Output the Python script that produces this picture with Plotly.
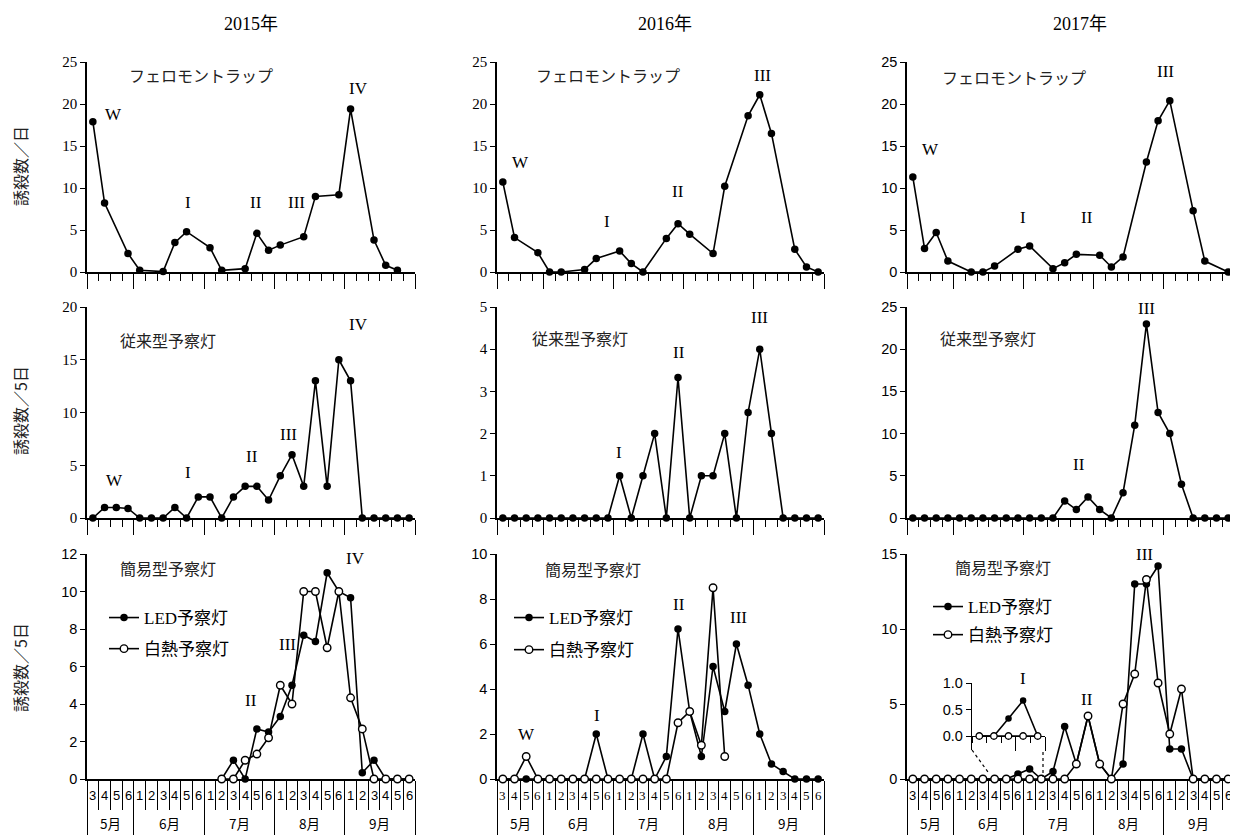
import plotly.graph_objects as go

# the page body keeps an 8px margin, so the figure is drawn 8px smaller and all
# layout positions below are given in window pixels and shifted by that margin
PAGE_MARGIN = 8
W, H = 1238 - PAGE_MARGIN, 835 - PAGE_MARGIN

# ---------------- data ----------------
YEARS = ["2015年", "2016年", "2017年"]
MONTHS = ["5月", "6月", "7月", "8月", "9月"]
MONTH_PENTADS = [4, 6, 6, 6, 6]
PENTADS = ["3", "4", "5", "6"] + ["1", "2", "3", "4", "5", "6"] * 4
N = None

# pheromone trap (catch / day)
PHERO_2015 = [17.9, 8.2, N, 2.2, 0.2, N, 0.05, 3.5, 4.8, N, 2.9, 0.2, N, 0.4, 4.6, 2.6,
              3.2, N, 4.2, 9.0, N, 9.2, 19.4, N, 3.8, 0.8, 0.2, N]
PHERO_2016 = [10.7, 4.1, N, 2.3, 0, 0, N, 0.3, 1.6, N, 2.5, 1.0, 0, N, 4.0, 5.75,
              4.5, N, 2.2, 10.2, N, 18.6, 21.1, 16.5, N, 2.7, 0.6, 0]
PHERO_2017 = [11.3, 2.8, 4.7, 1.3, N, 0, 0, 0.7, N, 2.7, 3.1, N, 0.4, 1.1, 2.1, N,
              2.0, 0.6, 1.8, N, 13.1, 18.0, 20.4, N, 7.3, 1.3, N, 0]

# conventional light trap (catch / 5 days)
CONV_2015 = [0, 1, 1, 0.9, 0, 0, 0, 1, 0, 2, 2, 0, 2, 3, 3, 1.7, 4, 6, 3, 13, 3, 15, 13,
             0, 0, 0, 0, 0]
CONV_2016 = [0, 0, 0, 0, 0, 0, 0, 0, 0, 0, 1, 0, 1, 2, 0, 3.33, 0, 1, 1, 2, 0, 2.5, 4, 2,
             0, 0, 0, 0]
CONV_2017 = [0, 0, 0, 0, 0, 0, 0, 0, 0, 0, 0, 0, 0, 2, 1, 2.5, 1, 0, 3, 11, 23, 12.5, 10, 4,
             0, 0, 0, 0]

# simple light traps (catch / 5 days)
LED_2015 = [N] * 11 + [0, 1.0, 0, 2.67, 2.5, 3.33, 5.0, 7.67, 7.33, 11, 10, 9.67, 0.33, 1.0,
                       0, 0, 0]
WHITE_2015 = [N] * 11 + [0, 0, 1.0, 1.33, 2.2, 5.0, 4.0, 10, 10, 7, 10, 4.33, 2.67, 0,
                         0, 0, 0]
LED_2016 = [0, 0, 0, 0, 0, 0, 0, 0, 2, 0, 0, 0, 2, 0, 1, 6.67, 3, 1, 5, 3, 6, 4.17, 2, 0.67,
            0.33, 0, 0, 0]
WHITE_2016 = [0, 0, 1, 0, 0, 0, 0, 0, 0, 0, 0, 0, 0, 0, 0, 2.5, 3, 1.5, 8.5, 1.0] + [N] * 8
LED_2017 = [0] * 9 + [0.33, 0.67, 0, 0.5, 3.5, 1.0, 4.2, 1.0, 0, 1.0, 13.0, 13.0, 14.2, 2.0,
                      2.0, 0, 0, 0, 0]
WHITE_2017 = [0] * 14 + [1.0, 4.2, 1.0, 0, 5.0, 7.0, 13.3, 6.4, 3.0, 6.0, 0, 0, 0, 0]

PANEL_LABELS = ["フェロモントラップ", "従来型予察灯", "簡易型予察灯"]
Y_TITLES = ["誘殺数／日", "誘殺数／5日", "誘殺数／5日"]
LEGEND_NAMES = ["LED予察灯", "白熱予察灯"]

X = list(range(len(PENTADS)))

# ---------------- styling ----------------
SERIF = "Liberation Serif, Noto Sans CJK JP"
SANS = "Liberation Sans, Noto Sans CJK JP"
CJK = "Noto Sans CJK JP"


def px(x):
    return (x - PAGE_MARGIN) / W


def py(y):
    return 1 - (y - PAGE_MARGIN) / H


COL_PX = [(87, 415), (497, 824), (907, 1234)]
ROW_PX = [(62, 272), (307, 518), (554, 779)]

Y_SETUP = [
    [(25, 5, SERIF), (25, 5, SERIF), (25, 5, SANS)],
    [(20, 5, SERIF), (5, 1, SERIF), (25, 5, SANS)],
    [(12, 2, SANS), (10, 2, SANS), (15, 5, SANS)],
]
COL_FONTS = [SANS, SERIF, SANS]

ROW_DATA = [
    [PHERO_2015, PHERO_2016, PHERO_2017],
    [CONV_2015, CONV_2016, CONV_2017],
]
LED = [LED_2015, LED_2016, LED_2017]
WHITE = [WHITE_2015, WHITE_2016, WHITE_2017]

month_bounds = [-0.5]
for n in MONTH_PENTADS:
    month_bounds.append(month_bounds[-1] + n)

fig = go.Figure()
layout = dict(
    template="none",
    width=W, height=H, margin=dict(l=0, r=0, t=0, b=0, pad=0, autoexpand=False),
    paper_bgcolor="white", plot_bgcolor="white",
    showlegend=True,
)

LINE_W = 1.6


def suffix(i):
    return "" if i == 1 else str(i)


for r in range(3):
    for c in range(3):
        i = r * 3 + c + 1
        s = suffix(i)
        ymax, dtick, yfont = Y_SETUP[r][c]
        bottom = r == 2
        layout["xaxis" + s] = dict(
            domain=[px(COL_PX[c][0]), px(COL_PX[c][1])],
            anchor="y" + s, range=[-0.5, len(PENTADS) - 0.5], automargin=False,
            showline=True, linecolor="black", linewidth=1.5,
            tickmode="array", tickvals=month_bounds, ticks="outside",
            ticklen=60 if bottom else 15, tickwidth=1.3, tickcolor="black",
            showticklabels=False, showgrid=False, zeroline=False,
            minor=dict(ticks="outside", ticklen=29 if bottom else 7, tick0=-0.5, dtick=1,
                       tickwidth=1.3, tickcolor="black", showgrid=False),
            layer="below traces",
        )
        layout["yaxis" + s] = dict(
            domain=[py(ROW_PX[r][1]), py(ROW_PX[r][0])], automargin=False,
            anchor="x" + s, range=[0, ymax], dtick=dtick, tick0=0, tickmode="linear",
            showline=True, linecolor="black", linewidth=1.5,
            ticks="outside", ticklen=5, tickwidth=1.3, tickcolor="black",
            tickfont=dict(family=yfont, size=15 if yfont == SERIF else 14.5, color="black"),
            showgrid=False, zeroline=False, layer="below traces",
        )
        if r < 2:
            fig.add_trace(go.Scatter(
                x=X, y=ROW_DATA[r][c], mode="lines+markers", connectgaps=True,
                line=dict(color="black", width=LINE_W),
                marker=dict(color="black", size=7.5),
                xaxis="x" + s, yaxis="y" + s, showlegend=False, cliponaxis=False,
            ))
        else:
            lg = "legend" if c == 0 else "legend" + str(c + 1)
            fig.add_trace(go.Scatter(
                x=X, y=LED[c], mode="lines+markers", connectgaps=True, name=LEGEND_NAMES[0],
                line=dict(color="black", width=LINE_W),
                marker=dict(color="black", size=7.5),
                xaxis="x" + s, yaxis="y" + s, legend=lg, legendgroup="a%d" % c,
                cliponaxis=False,
            ))
            fig.add_trace(go.Scatter(
                x=X, y=WHITE[c], mode="lines+markers", connectgaps=True, name=LEGEND_NAMES[1],
                line=dict(color="black", width=LINE_W),
                marker=dict(color="white", size=7.5, line=dict(color="black", width=1.4)),
                xaxis="x" + s, yaxis="y" + s, legend=lg, legendgroup="b%d" % c,
                cliponaxis=False,
            ))

# ---------------- inset (2017, simple light trap, detail of I) ----------------
INSET_X = X[7:12]
layout["xaxis10"] = dict(
    domain=[px(972), px(1045)], anchor="free", position=py(736), automargin=False,
    range=[6.5, 11.5], showline=True, linecolor="black", linewidth=1.3,
    tickmode="array", tickvals=[9.5, 11.5], ticks="outside", ticklen=14,
    tickwidth=1.3, tickcolor="black", showticklabels=False, showgrid=False, zeroline=False,
    minor=dict(ticks="outside", ticklen=6, tick0=6.5, dtick=1, tickwidth=1.3,
               tickcolor="black", showgrid=False),
    layer="below traces",
)
layout["yaxis10"] = dict(
    domain=[py(750), py(683)], anchor="x10", range=[-0.264, 1.0], automargin=False,
    tickmode="array", tickvals=[0, 0.5, 1.0], ticktext=["0.0", "0.5", "1.0"],
    showline=True, linecolor="black", linewidth=1.3, ticks="outside", ticklen=5,
    tickwidth=1.3, tickcolor="black",
    tickfont=dict(family=SANS, size=14.5, color="black"),
    showgrid=False, zeroline=False, layer="below traces",
)
fig.add_trace(go.Scatter(
    x=INSET_X, y=LED_2017[7:12], mode="lines+markers",
    line=dict(color="black", width=LINE_W), marker=dict(color="black", size=6.5),
    xaxis="x10", yaxis="y10", showlegend=False, cliponaxis=False,
))
fig.add_trace(go.Scatter(
    x=INSET_X, y=WHITE_2017[7:12], mode="lines+markers",
    line=dict(color="black", width=LINE_W),
    marker=dict(color="white", size=6.5, line=dict(color="black", width=1.3)),
    xaxis="x10", yaxis="y10", showlegend=False, cliponaxis=False,
))

shapes = [
    dict(type="line", xref="paper", yref="paper", x0=px(972), y0=py(750), x1=px(988),
         y1=py(772), line=dict(color="black", width=1.2, dash="dot")),
    dict(type="line", xref="paper", yref="paper", x0=px(1043), y0=py(752), x1=px(1043),
         y1=py(777), line=dict(color="black", width=1.2, dash="dot")),
]
layout["shapes"] = shapes

# ---------------- legends ----------------
LEG_POS = [(104, 600, 6), (509, 600, 7), (928, 589, 3)]
for c in range(3):
    key = "legend" if c == 0 else "legend" + str(c + 1)
    layout[key] = dict(
        x=px(LEG_POS[c][0]), y=py(LEG_POS[c][1]), xanchor="left", yanchor="top",
        bgcolor="rgba(0,0,0,0)", borderwidth=0, tracegroupgap=LEG_POS[c][2], itemwidth=30,
        font=dict(family=SERIF, size=17, color="black"), traceorder="grouped",
    )


def note(text, x, y, font, xref="paper", angle=0):
    return dict(text=text, x=x, y=y, xref=xref, yref="paper", showarrow=False,
                xanchor="center", yanchor="middle", textangle=angle, font=font)


# ---------------- annotations ----------------
ann = []
YEAR_X = [251, 665, 1080]
for c in range(3):
    ann.append(note(YEARS[c], px(YEAR_X[c]), py(24),
                    dict(family=SERIF, size=18, color="black")))

YT_Y = [166, 411, 668]
for r in range(3):
    ann.append(note(Y_TITLES[r], px(20), py(YT_Y[r]),
                    dict(family=CJK, size=16, color="#222"), angle=-90))

LABEL_POS = [
    [(201, 75), (608, 75), (1014, 77)],
    [(168, 340), (580, 338), (988, 338)],
    [(168, 568), (593, 569), (1003, 567)],
]
for r in range(3):
    for c in range(3):
        ann.append(note(PANEL_LABELS[r], px(LABEL_POS[r][c][0]), py(LABEL_POS[r][c][1]),
                        dict(family=CJK, size=16, color="#222")))

ROMAN = [
    ("W", 113, 114), ("I", 188, 202), ("II", 256, 202), ("III", 296, 202), ("IV", 359, 88),
    ("W", 520, 162), ("I", 607, 222), ("II", 678, 192), ("III", 762, 75),
    ("W", 930, 150), ("I", 1023, 217), ("II", 1087, 217), ("III", 1165, 72),
    ("W", 114, 480), ("I", 188, 472), ("II", 252, 457), ("III", 288, 434), ("IV", 359, 324),
    ("I", 619, 453), ("II", 679, 352), ("III", 759, 318),
    ("II", 1079, 464), ("III", 1146, 308),
    ("II", 251, 700), ("III", 287, 644), ("IV", 356, 558),
    ("W", 526, 734), ("I", 597, 715), ("II", 679, 604), ("III", 738, 617),
    ("I", 1023, 678), ("II", 1087, 699), ("III", 1144, 554),
]
for t, x, y in ROMAN:
    ann.append(note(t, px(x), py(y), dict(family=SERIF, size=17, color="black")))

# category labels under the bottom row
for c in range(3):
    s = suffix(7 + c)
    for k, lab in enumerate(PENTADS):
        ann.append(note(lab, X[k], py(795), dict(family=COL_FONTS[c], size=13, color="black"),
                        xref="x" + s))
    for m, lab in enumerate(MONTHS):
        center = (month_bounds[m] + month_bounds[m + 1]) / 2
        ann.append(note(lab, center, py(823), dict(family=CJK, size=13.5, color="black"),
                        xref="x" + s))

layout["annotations"] = ann
fig.update_layout(**layout)
fig.write_html("out.html")
